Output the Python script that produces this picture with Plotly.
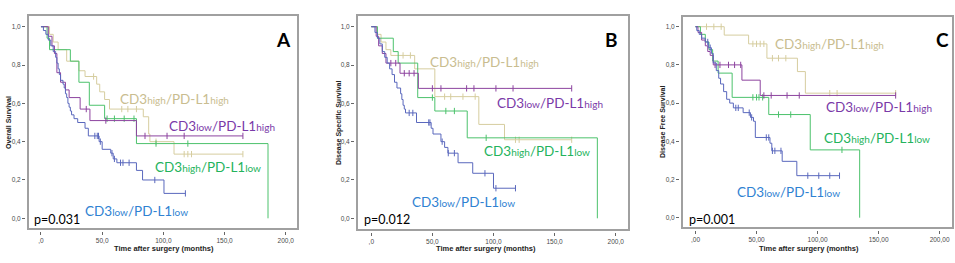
import numpy as np
import plotly.graph_objects as go

# ---------------- DATA ----------------
# Panel A : Overall Survival
A_lowlow_t = [0, 2, 4, 6, 8, 10, 12, 13, 14, 15, 16, 18, 19, 20, 21, 22, 23, 24, 25, 27, 30, 36, 38.7, 47.5, 50, 57, 59, 62, 78, 83, 100.5]
A_lowlow_s = [1.0, 0.98, 0.96, 0.93, 0.90, 0.87, 0.84, 0.81, 0.78, 0.75, 0.72, 0.70, 0.68, 0.65, 0.63, 0.60, 0.58, 0.56, 0.54, 0.52, 0.50, 0.47, 0.43, 0.40, 0.36, 0.34, 0.31, 0.29, 0.25, 0.20, 0.13]
A_lowlow_end = 118
A_lowlow_cens = [44, 46, 47, 48.5, 58, 60, 65, 67, 72, 93, 118]

A_lowhigh_t = [0, 6, 9, 11, 13, 16, 20, 23, 32, 40, 78]
A_lowhigh_s = [1.0, 0.95, 0.90, 0.86, 0.76, 0.71, 0.67, 0.63, 0.57, 0.51, 0.43]
A_lowhigh_end = 165
A_lowhigh_cens = [37, 53, 85, 103, 117, 165]

A_highlow_t = [0, 5, 7, 24, 31, 39.5, 52, 78, 185.5]
A_highlow_s = [1.0, 0.94, 0.88, 0.82, 0.71, 0.59, 0.52, 0.39, 0.0]
A_highlow_end = 185.5
A_highlow_cens = [54, 60, 68, 76, 94, 120]

A_highhigh_t = [0, 7, 10, 14, 21, 31, 36, 45.5, 48, 52, 56, 83.6, 88, 89, 108.7]
A_highhigh_s = [1.0, 0.96, 0.92, 0.88, 0.82, 0.77, 0.74, 0.70, 0.66, 0.62, 0.57, 0.53, 0.44, 0.40, 0.335]
A_highhigh_end = 165
A_highhigh_cens = [43, 66, 71, 78, 94, 117, 120, 123, 165]

# Panel B : Disease Specific Survival
B_lowlow_t = [0, 3, 5, 7, 9, 11, 13, 15, 17, 19, 21, 24, 25, 26, 27, 28, 37, 49, 50.5, 57, 60, 62.7, 71, 83, 100]
B_lowlow_s = [1.0, 0.97, 0.94, 0.91, 0.87, 0.84, 0.81, 0.78, 0.75, 0.71, 0.68, 0.65, 0.62, 0.59, 0.57, 0.55, 0.50, 0.47, 0.44, 0.40, 0.37, 0.34, 0.29, 0.235, 0.157]
B_lowlow_end = 118
B_lowlow_cens = [31, 34, 47, 48, 58, 63, 68, 93, 102, 118]

B_lowhigh_t = [0, 4, 6, 9, 12, 23.5, 38.5]
B_lowhigh_s = [1.0, 0.95, 0.90, 0.86, 0.81, 0.757, 0.678]
B_lowhigh_end = 164
B_lowhigh_cens = [16, 20, 27, 31, 35, 50, 57, 78, 84, 102, 116, 164]

B_highlow_t = [0, 5, 18, 22, 38, 52, 78.5, 185]
B_highlow_s = [1.0, 0.94, 0.87, 0.81, 0.63, 0.56, 0.42, 0.0]
B_highlow_end = 185
B_highlow_cens = [50, 61, 68, 94]

B_highhigh_t = [0, 5, 8, 12, 16, 35.5, 52, 88, 109]
B_highhigh_s = [1.0, 0.96, 0.92, 0.88, 0.85, 0.78, 0.635, 0.49, 0.41]
B_highhigh_end = 164
B_highhigh_cens = [26, 32, 60, 65, 75, 85, 118, 121, 164]

# Panel C : Disease Free Survival
C_lowlow_t = [0, 1, 3, 5, 8, 10.5, 13, 14.5, 17, 19, 20.5, 23, 25.5, 28, 31, 39, 45, 47.5, 49, 61, 62.5, 71, 83]
C_lowlow_s = [1.0, 0.98, 0.96, 0.94, 0.92, 0.89, 0.86, 0.81, 0.77, 0.73, 0.70, 0.66, 0.62, 0.60, 0.575, 0.55, 0.525, 0.505, 0.42, 0.39, 0.35, 0.295, 0.22]
C_lowlow_end = 118
C_lowlow_cens = [10, 12, 33, 35, 44, 46, 58, 60, 63, 65, 70, 92, 101, 110, 118]

C_lowhigh_t = [0, 2, 5, 8, 10, 12, 14.5, 38, 53]
C_lowhigh_s = [1.0, 0.97, 0.93, 0.90, 0.87, 0.85, 0.80, 0.72, 0.64]
C_lowhigh_end = 164
C_lowhigh_cens = [16, 20, 27, 32, 37, 56, 62, 75, 85, 164]

C_highlow_t = [0, 4, 8, 11, 14, 18.5, 30, 60, 94, 134.5]
C_highlow_s = [1.0, 0.96, 0.92, 0.88, 0.82, 0.757, 0.63, 0.54, 0.355, 0.0]
C_highlow_end = 134.5
C_highlow_cens = [47, 50, 52, 55, 68, 78, 120]

C_highhigh_t = [0, 23.5, 43.5, 58.5, 83.5, 90]
C_highhigh_s = [1.0, 0.956, 0.91, 0.835, 0.765, 0.652]
C_highhigh_end = 164
C_highhigh_cens = [9, 15, 21, 47, 50, 53, 56, 63, 68, 74, 110, 116, 164]

panel_letters = ["A", "B", "C"]
p_values = ["p=0.031", "p=0.012", "p=0.001"]
y_titles = ["Overall Survival", "Disease Specific Survival", "Disease Free Survival"]
x_title = "Time after surgery (months)"
x_tickvals = [0, 50, 100, 150, 200]
x_ticktext_AB = [",0", "50,0", "100,0", "150,0", "200,0"]
x_ticktext_C = [",00", "50,00", "100,00", "150,00", "200,00"]
y_tickvals = [0, 0.2, 0.4, 0.6, 0.8, 1.0]
y_ticktext = ["0,0", "0,2", "0,4", "0,6", "0,8", "1,0"]
group_names = ["CD3low/PD-L1low", "CD3low/PD-L1high", "CD3high/PD-L1low", "CD3high/PD-L1high"]

# ---------------- STYLE ----------------
W, H = 955, 263
line_colors = {"lowlow": "#5a68bd", "lowhigh": "#8d449f", "highlow": "#4cc26c", "highhigh": "#d6cd9f"}
text_colors = {"lowlow": "#2f82d2", "lowhigh": "#7a3aa8", "highlow": "#24b35c", "highhigh": "#c9bd90"}

# frame pixel boxes (left, top, right, bottom)
frames = [(28, 15, 298, 229), (357, 15, 629, 230), (682, 16, 953, 228)]
x_ranges = [[-10.6, 210.0], [-11.7, 210.9], [-11.1, 211.0]]
y_ranges = [[-0.0558, 1.061], [-0.061, 1.061], [-0.054, 1.056]]

curves = {
    0: {"lowlow": (A_lowlow_t, A_lowlow_s, A_lowlow_end, A_lowlow_cens),
        "lowhigh": (A_lowhigh_t, A_lowhigh_s, A_lowhigh_end, A_lowhigh_cens),
        "highlow": (A_highlow_t, A_highlow_s, A_highlow_end, A_highlow_cens),
        "highhigh": (A_highhigh_t, A_highhigh_s, A_highhigh_end, A_highhigh_cens)},
    1: {"lowlow": (B_lowlow_t, B_lowlow_s, B_lowlow_end, B_lowlow_cens),
        "lowhigh": (B_lowhigh_t, B_lowhigh_s, B_lowhigh_end, B_lowhigh_cens),
        "highlow": (B_highlow_t, B_highlow_s, B_highlow_end, B_highlow_cens),
        "highhigh": (B_highhigh_t, B_highhigh_s, B_highhigh_end, B_highhigh_cens)},
    2: {"lowlow": (C_lowlow_t, C_lowlow_s, C_lowlow_end, C_lowlow_cens),
        "lowhigh": (C_lowhigh_t, C_lowhigh_s, C_lowhigh_end, C_lowhigh_cens),
        "highlow": (C_highlow_t, C_highlow_s, C_highlow_end, C_highlow_cens),
        "highhigh": (C_highhigh_t, C_highhigh_s, C_highhigh_end, C_highhigh_cens)},
}

# label positions in pixels (left x, center y) per panel, per group
label_pos = [
    {"highhigh": (118, 99), "lowhigh": (167, 126), "highlow": (153, 167), "lowlow": (83, 211)},
    {"highhigh": (428, 62), "lowhigh": (495, 103), "highlow": (482, 151), "lowlow": (410, 202)},
    {"highhigh": (773, 44), "lowhigh": (824, 107), "highlow": (822, 138), "lowlow": (735, 192)},
]
p_pos = [(32, 219), (362, 219), (687, 219)]
letter_pos = [(283, 39), (611, 39), (942, 39)]
ytitle_pos = [(8, 123), (339, 123), (663, 122)]
xtitle_pos = [(164, 248), (486, 248), (809, 248)]

LABEL_FONT = "Lato"
BIG, SMALL = 13.5, 10

def px_x(x):
    return x / W

def px_y(y):
    return 1 - y / H

def fmt_label(name):
    left, right = name.split("/")
    a = left.replace("CD3", "")
    b = right.replace("PD-L1", "")
    sm = "<span style='font-size:%spx'>%s</span>"
    return "CD3" + sm % (SMALL, a) + "/PD-L1" + sm % (SMALL, b)

name_of = {"lowlow": group_names[0], "lowhigh": group_names[1],
           "highlow": group_names[2], "highhigh": group_names[3]}

fig = go.Figure()
layout = dict(width=W, height=H, margin=dict(l=0, r=0, t=0, b=0, pad=0),
              paper_bgcolor="white", plot_bgcolor="white", showlegend=False)
shapes, annotations = [], []

for i in range(3):
    sfx = "" if i == 0 else str(i + 1)
    xa, ya = "x" + sfx, "y" + sfx
    l, t, r, b = frames[i]
    for key in ["highhigh", "highlow", "lowhigh", "lowlow"]:
        ts, ss, end, cens = curves[i][key]
        xs = list(ts) + [end]
        ys = list(ss) + [ss[-1]]
        fig.add_trace(go.Scatter(x=xs, y=ys, mode="lines", line=dict(shape="hv", color=line_colors[key], width=1.0),
                                 xaxis=xa, yaxis=ya, hoverinfo="skip"))
        idx = np.searchsorted(np.array(ts), np.array(cens), side="right") - 1
        cy = np.array(ss)[idx]
        fig.add_trace(go.Scatter(x=cens, y=cy, mode="markers",
                                 marker=dict(symbol="line-ns", size=4.5, line=dict(color=line_colors[key], width=1)),
                                 xaxis=xa, yaxis=ya, hoverinfo="skip"))
    tick_font = dict(family="Arial", size=6.5, color="#4a4a4a")
    layout["xaxis" + sfx] = dict(domain=[px_x(l), px_x(r)], range=x_ranges[i], anchor="free",
                                 position=px_y(b + 2), showgrid=False, zeroline=False, showline=False,
                                 ticks="outside", ticklen=3, tickcolor="#666", tickwidth=1,
                                 tickvals=x_tickvals, ticktext=(x_ticktext_C if i == 2 else x_ticktext_AB),
                                 tickfont=tick_font)
    layout["yaxis" + sfx] = dict(domain=[px_y(b), px_y(t)], range=y_ranges[i], anchor="free",
                                 position=px_x(l - 3), showgrid=False, zeroline=False, showline=False,
                                 ticks="outside", ticklen=3, tickcolor="#666", tickwidth=1,
                                 tickvals=y_tickvals, ticktext=y_ticktext, tickfont=tick_font)
    shapes.append(dict(type="rect", xref="paper", yref="paper", x0=px_x(l), x1=px_x(r),
                       y0=px_y(b), y1=px_y(t), line=dict(color="#a0a0a0", width=2), layer="above"))
    for key, (lx, ly) in label_pos[i].items():
        annotations.append(dict(x=px_x(lx), y=px_y(ly), xref="paper", yref="paper", xanchor="left",
                                yanchor="middle", showarrow=False, text=fmt_label(name_of[key]),
                                font=dict(family=LABEL_FONT, size=BIG, color=text_colors[key])))
    annotations.append(dict(x=px_x(p_pos[i][0]), y=px_y(p_pos[i][1]), xref="paper", yref="paper",
                            xanchor="left", yanchor="middle", showarrow=False, text=p_values[i],
                            font=dict(family=LABEL_FONT, size=12.5, color="black")))
    annotations.append(dict(x=px_x(letter_pos[i][0]), y=px_y(letter_pos[i][1]), xref="paper", yref="paper",
                            xanchor="center", yanchor="middle", showarrow=False,
                            text="<b>%s</b>" % panel_letters[i],
                            font=dict(family=LABEL_FONT, size=19, color="black")))
    annotations.append(dict(x=px_x(ytitle_pos[i][0]), y=px_y(ytitle_pos[i][1]), xref="paper", yref="paper",
                            xanchor="center", yanchor="middle", showarrow=False, textangle=-90,
                            text="<b>%s</b>" % y_titles[i],
                            font=dict(family="Arial", size=7, color="#222")))
    annotations.append(dict(x=px_x(xtitle_pos[i][0]), y=px_y(xtitle_pos[i][1]), xref="paper", yref="paper",
                            xanchor="center", yanchor="middle", showarrow=False,
                            text="<b>%s</b>" % x_title,
                            font=dict(family="Arial", size=7.5, color="#222")))

layout["shapes"] = shapes
layout["annotations"] = annotations
fig.update_layout(**layout)
fig.write_html("out.html", config={"displayModeBar": False},
               post_script="document.body.style.margin='0';document.body.style.padding='0';")
